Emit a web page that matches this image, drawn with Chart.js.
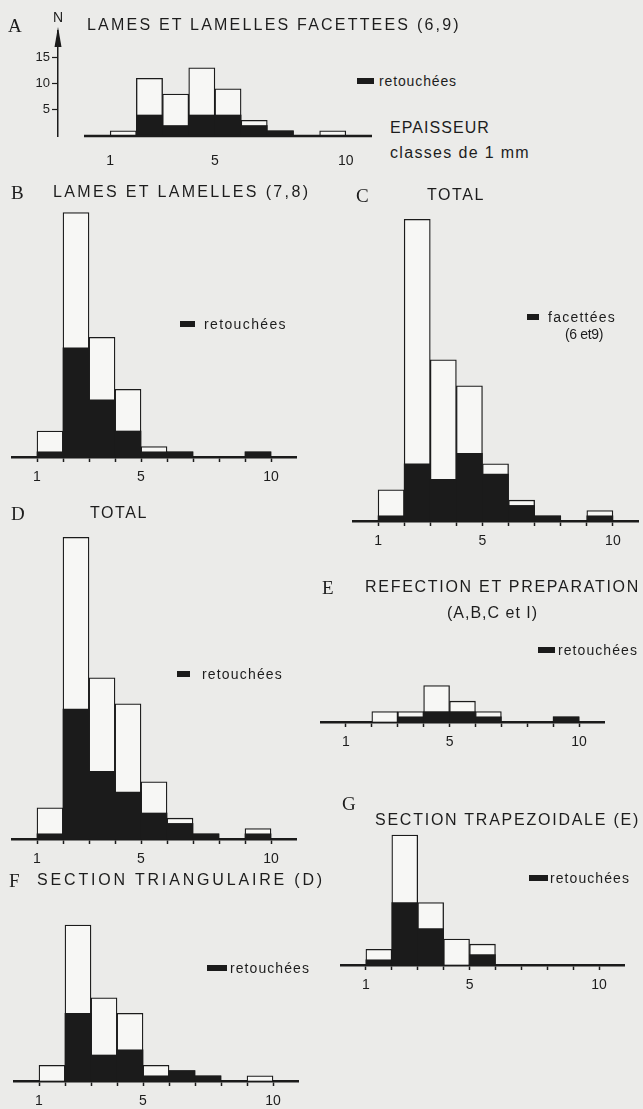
<!DOCTYPE html>
<html lang="fr">
<head>
<meta charset="utf-8">
<script src="https://cdn.jsdelivr.net/npm/chart.js@4.4.0/dist/chart.umd.min.js"></script>
<style>
  body { margin: 0; width: 643px; height: 1109px; background: #ebebe9; position: relative; overflow: hidden;
         font-family: "Liberation Sans", Arial, sans-serif; color: #1d1d1d; }
  .t { position: absolute; white-space: nowrap; transform: translateY(-50%); line-height: 1; }
  .letter { font-family: "Liberation Serif", serif; font-size: 19px; }
  .cap { font-size: 16px; }
  .small { font-size: 14px; }
  .key { position: absolute; height: 6px; background: #1b1b1b; transform: translateY(-50%); }
  canvas { position: absolute; }
</style>
</head>
<body>
<script>
// épaisseur, classes de 1 mm : borne inférieure de chaque classe
const classes = [1, 2, 3, 4, 5, 6, 7, 8, 9];
const tickValues = [1, 2, 3, 4, 5, 6, 7, 8, 9, 10];
const tickLabels = ['1', '', '', '', '5', '', '', '', '', '10'];
const countTicks = [5, 10, 15];

// A - lames et lamelles facettées (6,9)
const facetteesTotal = [1, 11, 8, 13, 9, 3, 1, 0, 1];
const facetteesRetouchees = [0, 4, 2, 4, 4, 2, 1, 0, 0];
// B - lames et lamelles (7,8)
const lamesTotal = [5, 47, 23, 13, 2, 1, 0, 0, 1];
const lamesRetouchees = [1, 21, 11, 5, 1, 1, 0, 0, 1];
// C - total, dont facettées (6 et 9)
const totalGeneral = [6, 58, 31, 26, 11, 4, 1, 0, 2];
const totalFacettees = [1, 11, 8, 13, 9, 3, 1, 0, 1];
// D - total, dont retouchées
const totalRetouchees = [1, 25, 13, 9, 5, 3, 1, 0, 1];
// E - réfection et préparation (A,B,C et I)
const refectionTotal = [0, 2, 2, 7, 4, 2, 0, 0, 1];
const refectionRetouchees = [0, 0, 1, 2, 2, 1, 0, 0, 1];
// F - section triangulaire (D)
const triangTotal = [3, 30, 16, 13, 3, 2, 1, 0, 1];
const triangRetouchees = [0, 13, 5, 6, 1, 2, 1, 0, 0];
// G - section trapézoïdale (E)
const trapezTotal = [3, 25, 12, 5, 4, 0, 0, 0, 0];
const trapezRetouchees = [1, 12, 7, 0, 2, 0, 0, 0, 0];

Chart.defaults.font.family = '"Liberation Sans", Arial, sans-serif';
Chart.defaults.font.size = 14;
Chart.defaults.color = '#1d1d1d';

const INK = '#1b1b1b';
const AXIS_H = 30;
const TOP_PAD = 14;

// x0 / x11 : pixels of 0 and 11 mm, base : pixel of the zero line
const panels = [
  { total: facetteesTotal, dark: facetteesRetouchees, x0: 84, x11: 372, base: 136, unit: 5.25, ymax: 20, axisAt: 58 },
  { total: lamesTotal, dark: lamesRetouchees, x0: 11, x11: 297, base: 457, unit: 5.2, ymax: 60 },
  { total: totalGeneral, dark: totalFacettees, x0: 352, x11: 639, base: 521, unit: 5.2, ymax: 60 },
  { total: totalGeneral, dark: totalRetouchees, x0: 11, x11: 297, base: 839, unit: 5.2, ymax: 60 },
  { total: refectionTotal, dark: refectionRetouchees, x0: 320, x11: 605, base: 722, unit: 5.2, ymax: 60 },
  { total: triangTotal, dark: triangRetouchees, x0: 13, x11: 299, base: 1081, unit: 5.2, ymax: 60 },
  { total: trapezTotal, dark: trapezRetouchees, x0: 340, x11: 625, base: 965, unit: 5.2, ymax: 60 }
];

// zero line drawn only between 0 and 11 when the count axis stands apart
const baseline = {
  id: 'baseline',
  afterDatasetsDraw(chart, args, opts) {
    if (!opts.show) return;
    const { ctx, scales: { x, y } } = chart;
    ctx.save();
    ctx.strokeStyle = INK;
    ctx.lineWidth = 2.5;
    ctx.beginPath();
    ctx.moveTo(x.getPixelForValue(0), y.getPixelForValue(0));
    ctx.lineTo(x.getPixelForValue(11), y.getPixelForValue(0));
    ctx.stroke();
    // arrow head on the N axis
    const ax = chart.chartArea.left, top = chart.chartArea.top;
    ctx.fillStyle = INK;
    ctx.beginPath();
    ctx.moveTo(ax, top - 4);
    ctx.lineTo(ax - 3.5, top + 16);
    ctx.lineTo(ax + 3.5, top + 16);
    ctx.closePath();
    ctx.fill();
    ctx.restore();
  }
};

function histogram(p) {
  const perMm = (p.x11 - p.x0) / 11;
  const hasAxis = p.axisAt !== undefined;
  const xMin = hasAxis ? (p.axisAt - p.x0) / perMm : 0;
  const leftAxis = hasAxis ? 48 : 0;
  const areaLeft = p.x0 + xMin * perMm;
  const areaH = p.ymax * p.unit;

  const canvas = document.createElement('canvas');
  canvas.width = Math.round(leftAxis + (p.x11 - areaLeft));
  canvas.height = Math.round(TOP_PAD + areaH + AXIS_H);
  canvas.style.left = (areaLeft - leftAxis) + 'px';
  canvas.style.top = (p.base - areaH - TOP_PAD) + 'px';
  document.body.appendChild(canvas);

  const bar = {
    barPercentage: 1,
    categoryPercentage: 1,
    grouped: false,
    clip: false
  };

  new Chart(canvas, {
    type: 'bar',
    data: {
      datasets: [
        Object.assign({
          data: classes.map((c, i) => ({ x: c + 0.5, y: p.dark[i] })),
          backgroundColor: INK,
          borderWidth: 0
        }, bar),
        Object.assign({
          data: classes.map((c, i) => ({ x: c + 0.5, y: p.total[i] })),
          backgroundColor: '#f7f7f5',
          borderColor: INK,
          borderWidth: 1.3,
          borderSkipped: 'bottom'
        }, bar)
      ]
    },
    options: {
      responsive: false,
      animation: false,
      layout: { padding: { top: TOP_PAD, left: 0, right: 0, bottom: 0 } },
      plugins: {
        legend: { display: false },
        tooltip: { enabled: false },
        baseline: { show: hasAxis }
      },
      scales: {
        x: {
          type: 'linear',
          offset: false,
          min: xMin,
          max: 11,
          afterBuildTicks: s => { s.ticks = tickValues.map(v => ({ value: v })); },
          afterFit: s => { s.height = AXIS_H; },
          ticks: {
            autoSkip: false,
            maxRotation: 0,
            padding: hasAxis ? 12 : 7,
            font: { size: 14 },
            callback: v => tickLabels[tickValues.indexOf(v)] || ''
          },
          grid: {
            display: !hasAxis,
            offset: false,
            drawOnChartArea: false,
            tickLength: 5,
            tickWidth: 1.5,
            color: INK
          },
          border: { display: !hasAxis, color: INK, width: 2.5 }
        },
        y: {
          display: hasAxis,
          min: 0,
          max: p.ymax,
          afterBuildTicks: s => { s.ticks = countTicks.map(v => ({ value: v })); },
          afterFit: s => { s.width = leftAxis; },
          ticks: { padding: 2, font: { size: 13 } },
          grid: { drawOnChartArea: false, tickLength: 6, tickWidth: 1.2, color: INK },
          border: { color: INK, width: 1.5 }
        }
      }
    },
    plugins: [baseline]
  });
}

panels.forEach(histogram);

// titles, legends and notes; w = width the lettering is spread over
const texts = [
  ['letter', 'A', 8, 25],
  ['small', 'N', 53, 17],
  ['cap', 'LAMES ET LAMELLES  FACETTEES (6,9)', 87, 25, 376],
  ['cap', 'EPAISSEUR', 390, 128, 100],
  ['cap', 'classes de 1 mm', 390, 153, 140],
  ['small', 'retouchées', 379, 81, 78],
  ['letter', 'B', 11, 192],
  ['cap', 'LAMES  ET  LAMELLES (7,8)', 53, 192, 262],
  ['small', 'retouchées', 204, 324, 83],
  ['letter', 'C', 356, 195],
  ['cap', 'TOTAL', 427, 195, 58],
  ['small', 'facettées', 548, 317, 68],
  ['small', '(6 et9)', 565, 334, 38],
  ['letter', 'D', 11, 513],
  ['cap', 'TOTAL', 90, 513, 58],
  ['small', 'retouchées', 202, 674, 81],
  ['letter', 'E', 322, 587],
  ['cap', 'REFECTION ET PREPARATION', 365, 587, 275],
  ['cap', '(A,B,C et I)', 447, 613, 91],
  ['small', 'retouchées', 558, 650, 80],
  ['letter', 'F', 9, 880],
  ['cap', 'SECTION TRIANGULAIRE (D)', 37, 880, 288],
  ['small', 'retouchées', 230, 968, 80],
  ['letter', 'G', 342, 803],
  ['cap', 'SECTION TRAPEZOIDALE (E)', 375, 820, 265],
  ['small', 'retouchées', 550, 878, 80]
];

texts.forEach(([cls, str, left, y, w]) => {
  const el = document.createElement('div');
  el.className = 't ' + cls;
  el.textContent = str;
  el.style.left = left + 'px';
  el.style.top = y + 'px';
  document.body.appendChild(el);
  if (w) {
    const natural = el.getBoundingClientRect().width;
    el.style.letterSpacing = ((w - natural) / str.length) + 'px';
  }
});

// legend swatches
[[357, 81, 17], [180, 324, 15], [527, 317, 12], [177, 674, 13],
 [538, 650, 17], [207, 968, 20], [529, 878, 19]].forEach(([left, y, w]) => {
  const k = document.createElement('div');
  k.className = 'key';
  k.style.left = left + 'px';
  k.style.top = y + 'px';
  k.style.width = w + 'px';
  document.body.appendChild(k);
});
</script>
</body>
</html>
